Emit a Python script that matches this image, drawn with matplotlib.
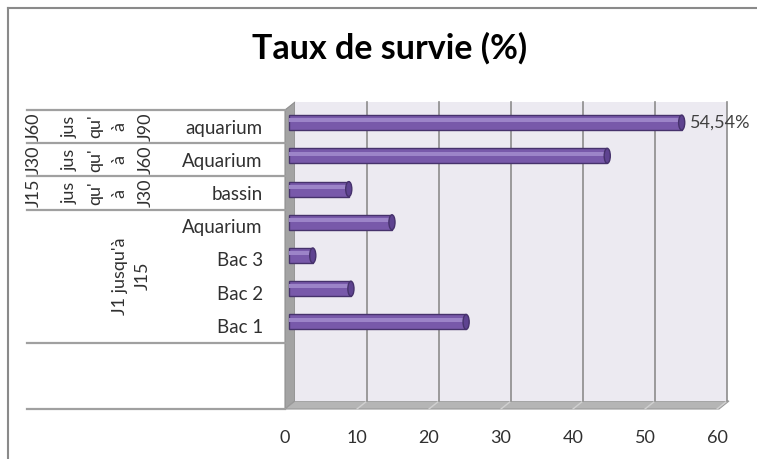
import numpy as np
import matplotlib.pyplot as plt
import matplotlib.transforms as mtransforms
from matplotlib.patches import Polygon, Rectangle, Ellipse
from matplotlib.lines import Line2D

plt.rcParams['font.family'] = ['Lato', 'DejaVu Sans']

# data
categories = ["aquarium", "Aquarium", "bassin", "Aquarium", "Bac 3", "Bac 2", "Bac 1", "", ""]
values = [54.54, 44.2, 8.3, 14.3, 3.3, 8.6, 24.6]
group_names = ["J60 jus qu' à J90", "J30 jus qu' à J60", "J15 jus qu' à J30", "J1 jusqu'à J15", ""]
group_spans = [1, 1, 1, 4, 2]
xticks = [0, 10, 20, 30, 40, 50, 60]
title = "Taux de survie (%)"

W, H = 757, 459
fig = plt.figure(figsize=(W / 100, H / 100), dpi=100)
fig.patch.set_facecolor('white')

def fx(px):
    return px / W

def fy(py):
    return 1 - py / H

# front plane of the plot: x 285..717, y 110..409 (pixels)
x0, x1, y0, y1 = 285, 717, 110, 409
ax = fig.add_axes([fx(x0), fy(y1), (x1 - x0) / W, (y1 - y0) / H])
ax.set_zorder(3)
ax.set_xlim(0, 60)
n = len(categories)
ax.set_ylim(n - 0.5, -0.5)
for s in ax.spines.values():
    s.set_visible(False)
ax.patch.set_alpha(0)

dx, dy = 10, 8  # depth offset in pixels
back = mtransforms.offset_copy(ax.transData, fig=fig, x=dx, y=dy, units='dots')
mid = mtransforms.offset_copy(ax.transData, fig=fig, x=4, y=4, units='dots')

# back wall
ax.add_patch(Rectangle((0, -0.5), 60, n, transform=back, facecolor='#ECEAF1',
                       edgecolor='none', zorder=0, clip_on=False))
for t in xticks[1:]:
    ax.plot([t, t], [-0.5, n - 0.5], transform=back, color='#8C8C8C', lw=1.2,
            zorder=1, clip_on=False)

# side wall and floor (figure pixel polygons)
side = Polygon([(fx(x0), fy(y0)), (fx(x0 + dx), fy(y0 - dy)), (fx(x0 + dx), fy(y1 - dy)),
                (fx(x0), fy(y1))], closed=True, transform=fig.transFigure,
               facecolor='#A3A3A3', edgecolor='#8F8F8F', lw=0.8, zorder=2)
floor = Polygon([(fx(x0), fy(y1)), (fx(x0 + dx), fy(y1 - dy)), (fx(x1 + dx + 2), fy(y1 - dy)),
                 (fx(x1 + 2), fy(y1))], closed=True, transform=fig.transFigure,
                facecolor='#B5B5B5', edgecolor='#9A9A9A', lw=0.8, zorder=2)
fig.add_artist(side)
fig.add_artist(floor)
for t in xticks[1:]:
    px = x0 + (x1 - x0) * t / 60
    fig.add_artist(Line2D([fx(px), fx(px + dx)], [fy(y1), fy(y1 - dy)],
                          transform=fig.transFigure, color='#D0D0D0', lw=1, zorder=2.5))

# bars (cylinders: body + highlight + rounded end cap)
ypos = np.arange(len(values))
bh = 0.45
ax.barh(ypos, values, height=bh, color='#7859AA', edgecolor='#46326C', lw=1.0,
        transform=mid, zorder=4, clip_on=False)
ax.barh(ypos - 0.07, values, height=0.12, color='#9C84C8', lw=0,
        transform=mid, zorder=5, clip_on=False)
for yv, v in zip(ypos, values):
    ax.add_patch(Ellipse((v, yv), width=0.85, height=bh, transform=mid,
                         facecolor='#5E4390', edgecolor='#46326C', lw=1.0,
                         zorder=6, clip_on=False))

ax.text(values[0] + 1.2, 0, "54,54%", transform=mid, va='center', ha='left',
        fontsize=13, color='#404040')

# axes ticks
ax.set_xticks(xticks)
ax.set_xticklabels([str(t) for t in xticks], fontsize=13, color='#303030')
ax.set_yticks(np.arange(n))
ax.set_yticklabels(categories, fontsize=13.5, color='#303030')
ax.tick_params(axis='x', length=0, pad=15)
ax.tick_params(axis='y', length=0, pad=16)

# category table lines and group labels
row_h = (y1 - y0) / n
col_x = [34, 70, 95, 119, 146]
start = 0
lines_y = [y0]
for name, span in zip(group_names, group_spans):
    top = y0 + start * row_h
    bottom = top + span * row_h
    cy = (top + bottom) / 2
    if span == 1:
        for word, cx in zip(name.split(), col_x):
            fig.text(fx(cx), fy(cy), word, rotation=90, ha='center', va='center',
                     fontsize=13, color='#303030')
    elif name:
        words = name.split()
        label = " ".join(words[:2]) + "\n" + " ".join(words[2:])
        fig.text(fx(131), fy(cy), label, rotation=90, ha='center', va='center',
                 fontsize=13, color='#303030', multialignment='center', linespacing=1.5)
    start += span
    lines_y.append(y0 + start * row_h)

for ly in lines_y:
    fig.add_artist(Line2D([fx(27), fx(x0)], [fy(ly), fy(ly)], transform=fig.transFigure,
                          color='#A0A0A0', lw=1.6, zorder=2))

# title
fig.text(fx(390), fy(48), title, ha='center', va='center', fontsize=24.5,
         fontweight='bold', color='#000000')

# chart border (top and left)
fig.add_artist(Line2D([fx(8), fx(8)], [fy(8), 0], transform=fig.transFigure,
                      color='#8A8A8A', lw=1.5))
fig.add_artist(Line2D([fx(8), 1], [fy(8), fy(8)], transform=fig.transFigure,
                      color='#8A8A8A', lw=1.5))

fig.savefig('out.png', dpi=100)
